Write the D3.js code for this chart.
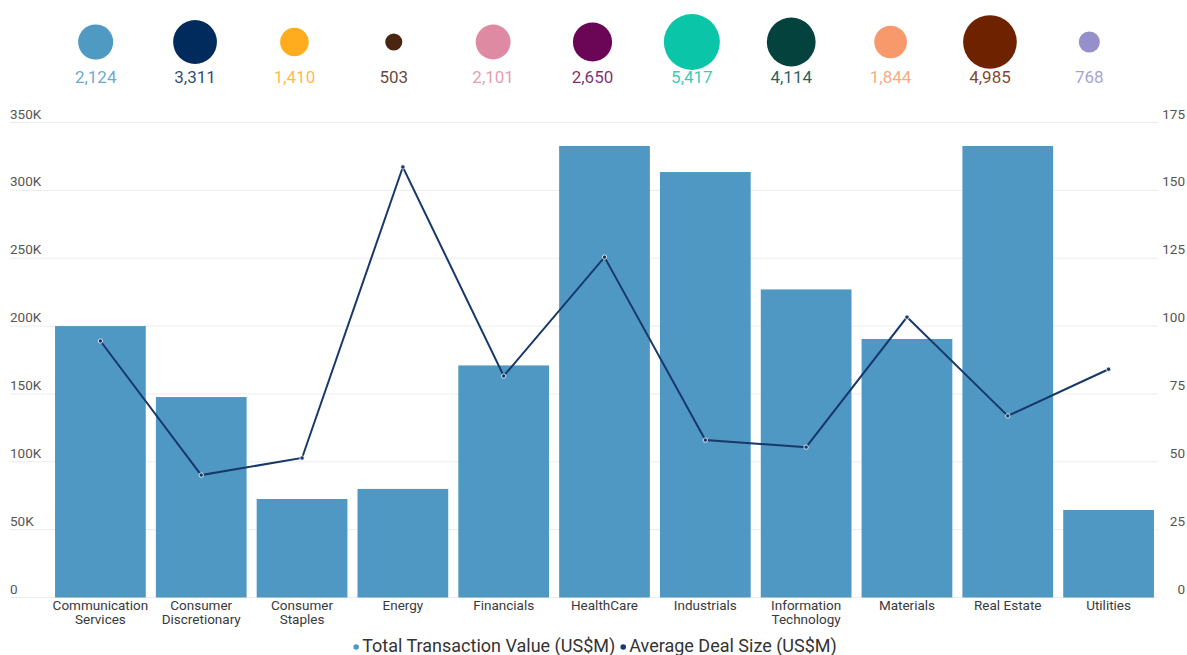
<!DOCTYPE html>
<html>
<head>
<meta charset="utf-8">
<script src="https://cdn.jsdelivr.net/npm/d3@7"></script>
<style>
  body { margin: 0; background: #fff; }
  svg { display: block; }
</style>
</head>
<body>
<svg></svg>
<script>
const sectors = ['Communication Services', 'Consumer Discretionary', 'Consumer Staples', 'Energy',
    'Financials', 'HealthCare', 'Industrials', 'Information Technology', 'Materials',
    'Real Estate', 'Utilities'];
const sectorLines = [['Communication', 'Services'], ['Consumer', 'Discretionary'], ['Consumer', 'Staples'],
    ['Energy'], ['Financials'], ['HealthCare'], ['Industrials'], ['Information', 'Technology'],
    ['Materials'], ['Real Estate'], ['Utilities']];
const totalValue = [200000, 147700, 72600, 80000, 171000, 332700, 313500, 227000, 190500, 332700, 64500];
const avgDealSize = [94.5, 45.1, 51.4, 158.6, 81.6, 125.4, 58.0, 55.4, 103.3, 66.9, 84.1];
const dealCount = [2124, 3311, 1410, 503, 2101, 2650, 5417, 4114, 1844, 4985, 768];
const sectorColors = ['#4e9ac3', '#002b5c', '#ffad1f', '#4a2511', '#de8aa3', '#6b0555',
    '#0bc5a8', '#04423d', '#f7996b', '#6e2200', '#9590c9'];
const leftTicks = [0, 50000, 100000, 150000, 200000, 250000, 300000, 350000];
const rightTicks = [0, 25, 50, 75, 100, 125, 150, 175];
const legendItems = ['Total Transaction Value (US$M)', 'Average Deal Size (US$M)'];

const width = 1187;
const height = 655;
const barColor = '#4e98c3';
const lineColor = '#17386a';

const svg = d3.select('svg')
    .attr('width', width)
    .attr('height', height)
    .attr('font-family', 'Roboto, sans-serif');

// bubble row with deal counts
const bx = d3.scalePoint().domain(sectors).range([46, 1139]).padding(0.5);
const r = d3.scaleSqrt().domain([0, d3.max(dealCount)]).range([0, 28]);

const bubbles = svg.append('g')
    .selectAll('g')
    .data(sectors)
    .enter()
    .append('g')
    .attr('transform', d => `translate(${bx(d)},0)`);

bubbles.append('circle')
    .attr('cy', 42)
    .attr('r', (d, i) => r(dealCount[i]))
    .attr('fill', (d, i) => sectorColors[i]);

bubbles.append('text')
    .attr('y', 83)
    .attr('text-anchor', 'middle')
    .attr('font-size', 17)
    .attr('fill', (d, i) => sectorColors[i])
    .attr('fill-opacity', 0.85)
    .text((d, i) => d3.format(',')(dealCount[i]));

// main chart
const x = d3.scaleBand().domain(sectors).range([50, 1159]).paddingInner(0.1).paddingOuter(0.05);
const y = d3.scaleLinear().domain([0, 350000]).range([597.5, 122.5]);
const y2 = d3.scaleLinear().domain([0, 175]).range([597.5, 122.5]);

svg.append('g')
    .selectAll('line')
    .data(leftTicks)
    .enter()
    .append('line')
    .attr('x1', 10)
    .attr('x2', 1158)
    .attr('y1', d => y(d))
    .attr('y2', d => y(d))
    .attr('stroke', '#ececec')
    .attr('stroke-width', 1);

svg.append('g')
    .selectAll('text')
    .data(leftTicks)
    .enter()
    .append('text')
    .attr('x', 10)
    .attr('y', d => y(d) - 4)
    .attr('font-size', 13.5)
    .attr('fill', '#555')
    .text(d => d === 0 ? '0' : d / 1000 + 'K');

svg.append('g')
    .selectAll('text')
    .data(rightTicks)
    .enter()
    .append('text')
    .attr('x', 1185)
    .attr('y', d => y2(d) - 4)
    .attr('text-anchor', 'end')
    .attr('font-size', 13.5)
    .attr('fill', '#555')
    .text(d => d);

svg.append('g')
    .selectAll('rect')
    .data(sectors)
    .enter()
    .append('rect')
    .attr('x', d => x(d))
    .attr('width', x.bandwidth())
    .attr('y', (d, i) => y(totalValue[i]))
    .attr('height', (d, i) => y(0) - y(totalValue[i]))
    .attr('fill', barColor);

const line = d3.line()
    .x((d, i) => x(sectors[i]) + x.bandwidth() / 2)
    .y(d => y2(d));

svg.append('path')
    .datum(avgDealSize)
    .attr('d', line)
    .attr('fill', 'none')
    .attr('stroke', lineColor)
    .attr('stroke-width', 2);

svg.append('g')
    .selectAll('circle')
    .data(avgDealSize)
    .enter()
    .append('circle')
    .attr('cx', (d, i) => x(sectors[i]) + x.bandwidth() / 2)
    .attr('cy', d => y2(d))
    .attr('r', 2.2)
    .attr('fill', lineColor)
    .attr('stroke', '#fff')
    .attr('stroke-width', 0.8);

// category labels
const cats = svg.append('g')
    .selectAll('text')
    .data(sectors)
    .enter()
    .append('text')
    .attr('x', d => x(d) + x.bandwidth() / 2)
    .attr('y', 610)
    .attr('text-anchor', 'middle')
    .attr('font-size', 13.5)
    .attr('fill', '#3a3a3a');

cats.selectAll('tspan')
    .data((d, i) => sectorLines[i])
    .enter()
    .append('tspan')
    .attr('x', function () { return this.parentNode.getAttribute('x'); })
    .attr('dy', (d, i) => i === 0 ? 0 : 14)
    .text(d => d);

// legend
const legend = svg.append('g');
const legendColors = [barColor, lineColor];
let lx = 0;
legendItems.forEach((t, i) => {
    let g = legend.append('g').attr('transform', `translate(${lx},0)`);
    g.append('circle').attr('cx', 3).attr('cy', -5).attr('r', 2.8).attr('fill', legendColors[i]);
    let txt = g.append('text')
        .attr('x', 9)
        .attr('font-size', 18)
        .attr('fill', '#333')
        .text(t);
    lx += 9 + txt.node().getComputedTextLength() + 5;
});
legend.attr('transform', `translate(${(width - lx) / 2 + 4},652)`);
</script>
</body>
</html>
